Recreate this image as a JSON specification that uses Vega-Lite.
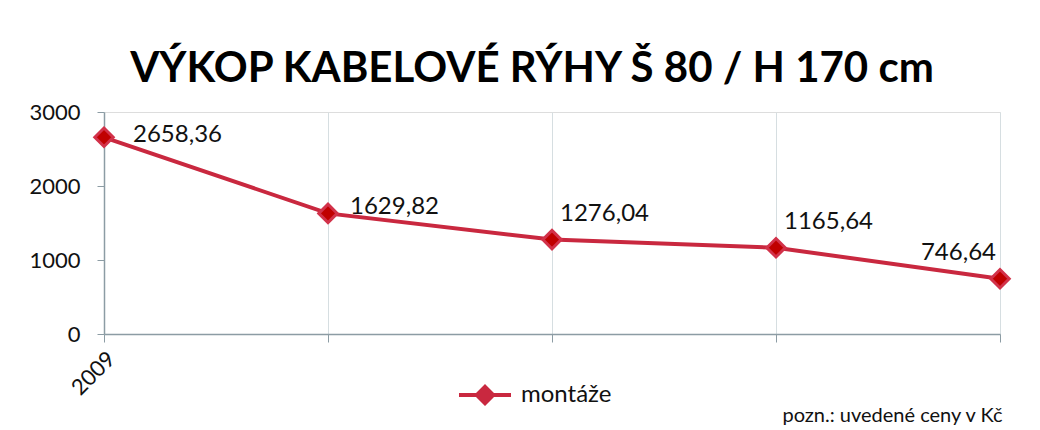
{
  "$schema": "https://vega.github.io/schema/vega-lite/v6.json",
  "autosize": {"type": "none"},
  "padding": {"left": 104, "top": 112, "right": 40, "bottom": 96},
  "width": 896,
  "height": 222,
  "background": "white",
  "title": {
    "text": "VÝKOP KABELOVÉ RÝHY Š 80 / H 170 cm",
    "font": "Lato",
    "fontSize": 42,
    "fontWeight": "bold",
    "color": "#000000",
    "anchor": "middle",
    "frame": "group",
    "dx": -20,
    "offset": 10
  },
  "data": {
    "values": [
      {"bod": 1, "cena": 2658.36, "popis": "2658,36", "serie": "montáže"},
      {"bod": 2, "cena": 1629.82, "popis": "1629,82", "serie": "montáže"},
      {"bod": 3, "cena": 1276.04, "popis": "1276,04", "serie": "montáže"},
      {"bod": 4, "cena": 1165.64, "popis": "1165,64", "serie": "montáže"},
      {"bod": 5, "cena": 746.64, "popis": "746,64", "serie": "montáže"}
    ]
  },
  "encoding": {
    "x": {
      "field": "bod",
      "type": "ordinal",
      "scale": {"type": "point", "padding": 0},
      "axis": {
        "title": "pozn.: uvedené ceny v Kč",
        "titleFont": "Lato",
        "titleFontSize": 20,
        "titleFontWeight": "normal",
        "titleColor": "#111111",
        "titleAnchor": "end",
        "titleAlign": "right",
        "titleX": 898,
        "titleY": 87,
        "titleBaseline": "alphabetic",
        "labelExpr": "datum.value == 1 ? '2009' : ''",
        "labelAngle": 315,
        "labelFont": "Lato",
        "labelFontSize": 22,
        "labelColor": "#111111",
        "labelPadding": 6,
        "domainColor": "#8C9CA4",
        "domainWidth": 1.5,
        "tickColor": "#8C9CA4",
        "tickSize": 8,
        "grid": true,
        "gridColor": "#D6DEE1",
        "gridWidth": 1
      }
    },
    "y": {
      "field": "cena",
      "type": "quantitative",
      "scale": {"domain": [0, 3000]},
      "axis": {
        "title": null,
        "values": [0, 1000, 2000, 3000],
        "format": "d",
        "labelFont": "Lato",
        "labelFontSize": 22,
        "labelColor": "#111111",
        "labelPadding": 17,
        "domainColor": "#8C9CA4",
        "domainWidth": 1.5,
        "tickColor": "#8C9CA4",
        "tickSize": 7,
        "grid": false
      }
    }
  },
  "layer": [
    {
      "mark": {"type": "line", "strokeWidth": 4, "color": "#C9283F"},
      "encoding": {}
    },
    {
      "mark": {"type": "point", "shape": "diamond", "size": 340, "filled": true, "fill": "#C00000", "stroke": "#D2324A", "strokeWidth": 3, "opacity": 1},
      "encoding": {
        "color": {
          "field": "serie",
          "type": "nominal",
          "scale": {"range": ["#C9283F"]},
          "legend": {
            "title": null,
            "orient": "none",
            "legendX": 369,
            "legendY": 271,
            "symbolType": "M-2.6,-0.2 L-0.9,-0.2 L0,-1.1 L0.9,-0.2 L2.6,-0.2 L2.6,0.2 L0.9,0.2 L0,1.1 L-0.9,0.2 L-2.6,0.2 Z",
            "symbolSize": 400,
            "symbolFillColor": "#C9283F",
            "symbolStrokeWidth": 0,
            "symbolOpacity": 1,
            "labelFont": "Lato",
            "labelFontSize": 24,
            "labelColor": "#111111",
            "labelOffset": 24
          }
        }
      }
    },
    {
      "mark": {
        "type": "text",
        "font": "Lato",
        "fontSize": 24,
        "color": "#111111",
        "baseline": "middle",
        "align": {"expr": "datum.bod == 5 ? 'right' : 'left'"},
        "dx": {"expr": "datum.bod == 1 ? 29 : datum.bod == 2 ? 22 : datum.bod == 5 ? -4 : 8"},
        "dy": {"expr": "datum.bod == 1 ? -2 : datum.bod == 2 ? -6 : -26"}
      },
      "encoding": {"text": {"field": "popis"}}
    }
  ]
}
